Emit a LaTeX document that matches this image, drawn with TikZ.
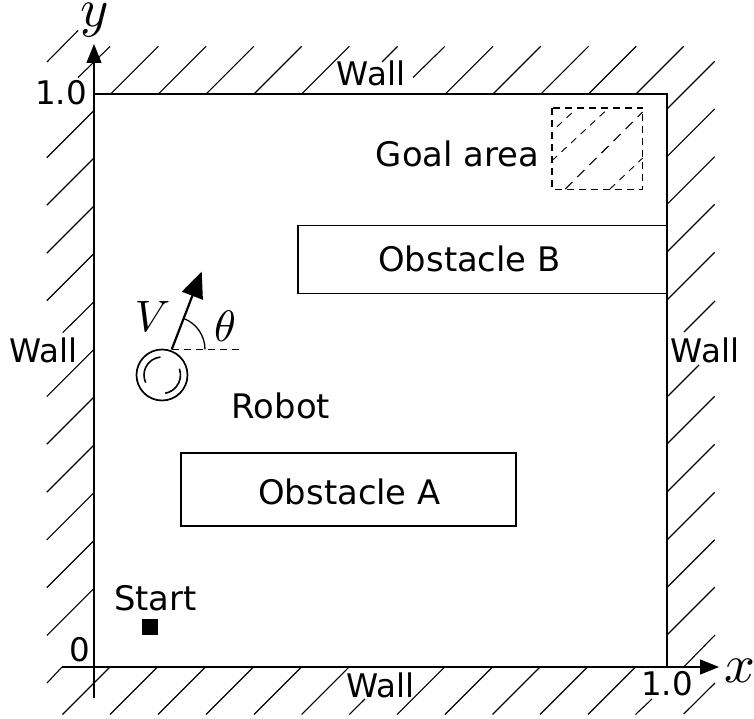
\documentclass[tikz,border=0pt]{standalone}
\usepackage{fontspec}
\setmainfont{DejaVu Sans}
\usetikzlibrary{arrows.meta}
\tikzset{
  x=1pt,y=-1pt,
  hatch/.style={line width=1.1pt,black},
  wall/.style={line width=1.6pt,black},
  lbl/.style={inner sep=0pt,anchor=base,font=\fontsize{33.8}{34}\selectfont},
  wlbl/.style={inner sep=0pt,anchor=base,font=\fontsize{32.5}{33}\selectfont},
  mathlbl/.style={inner sep=0pt},
  obstacle/.style={draw,line width=1.4pt,anchor=north west,inner sep=0pt,outer sep=0pt},
  axisarrow/.style={line width=1.3pt,-{Triangle[length=19pt,width=15pt]}},
  goalhatch/.style={line width=0.9pt,dash pattern=on 7pt off 6pt},
}
\begin{document}
\begin{tikzpicture}
\useasboundingbox (0,0) rectangle (754,719);
% hatching: top
\foreach \a in {110.7,158.4,206.2,254,301.7,445.3,493,540.8,588.5,636}
  \draw[hatch] (\a,94) -- ++(47.7,-47.7);
\draw[hatch] (47,62) -- (78,30.5);
\draw[hatch] (78,77.5) -- (110,46.5);
\draw[hatch] (382,62) -- (397.5,46.5);
\draw[hatch] (413,77.5) -- (444.7,46.5);
% hatching: left
\foreach \a in {110.5,158,206,253.5,349.3,397,445,492.7,540.5,588.3}
  \draw[hatch] (94,\a) -- ++(-47.2,47.2);
\draw[hatch] (94,301.7) -- (62.7,332.7);
\draw[hatch] (47,683) -- (62,667);
% hatching: right
\foreach \a in {109,156.7,204.4,252,300,444,492,540,587.5,635}
  \draw[hatch] (667,\a) -- ++(47.7,-47.7);
\draw[hatch] (684,332) -- (715,301);
\draw[hatch] (668,396) -- (699,365);
\draw[hatch] (683.7,667) -- (715,635);
\draw[hatch] (683.7,714) -- (715,683);
% hatching: bottom
\foreach \a in {62.5,110,158,206,254,301.6,397.2,445,492.5,540,588}
  \draw[hatch] (\a,714.5) -- ++(47.7,-47.7);
\draw[hatch] (349.3,714.5) -- (365,699);
\draw[hatch] (635.5,714.5) -- (652,699);
% walls and axes
\coordinate (org) at (94,667);
\coordinate (tl) at (94,94);
\coordinate (tr) at (667,94);
\coordinate (br) at (667,667);
\coordinate (ybot) at (94,698);
\coordinate (ytip) at (94,44);
\coordinate (xleft) at (62,667);
\coordinate (xtip) at (719,667);
\draw[wall] (tl) -- (tr) -- (br);
\draw[axisarrow] (ybot) -- (ytip);
\draw[axisarrow] (xleft) -- (xtip);
% obstacles and goal
\node[obstacle,minimum width=369pt,minimum height=68pt] (obsB) at (298,225.5) {};
\node[obstacle,minimum width=335pt,minimum height=73pt] (obsA) at (181,453) {};
\node[lbl] (obsBt) at (469.5,271) {Obstacle B};
\node[lbl] (obsAt) at (349.5,504) {Obstacle A};
\draw[line width=1.3pt,dash pattern=on 7pt off 5pt] (552,108) rectangle (642.5,189.5);
\draw[goalhatch] (557,126.7) -- (575,110);
\draw[goalhatch] (552,160.7) -- (608.7,108);
\draw[goalhatch,line width=1.1pt,dash pattern=on 10pt off 7pt] (565.3,189) -- (642.7,112);
\draw[goalhatch] (610,189) -- (642.7,158);
% robot
\node[draw,circle,line width=1.7pt,minimum size=51pt,inner sep=0pt] (robot) at (162,375) {};
\draw[line width=1.6pt] (robot.center) ++(95:18pt) arc[start angle=95,end angle=205,radius=18pt];
\draw[line width=1.6pt] (robot.center) ++(20:18.5pt) arc[start angle=20,end angle=-80,radius=18.5pt];
\coordinate (vbase) at (171.7,349.5);
\coordinate (vtip) at (201.7,271.5);
\coordinate (ref) at (241.7,349.5);
\draw[line width=2.2pt,-{Triangle[length=26pt,width=22pt]}] (vbase) -- (vtip);
\draw[line width=1.2pt,dash pattern=on 7pt off 5pt] (vbase) -- (ref);
\draw[line width=1.3pt] (205,349.5) arc[start angle=0,end angle=69,radius=33.3pt];
\node[mathlbl] (vl) at (152.5,316.7) {\scalebox{4.4}{$V$}};
\node[mathlbl] (th) at (225,326) {\scalebox{4.4}{$\theta$}};
% labels
\node[mathlbl] (yl) at (95,20) {\scalebox{5.4}{$y$}};
\node[mathlbl] (xl) at (740,671) {\scalebox{5.4}{$x$}};
\node[wlbl] (w1) at (371,86) {Wall};
\node[wlbl] (w2) at (43.5,362) {Wall};
\node[wlbl] (w3) at (705,362.5) {Wall};
\node[wlbl] (w4) at (380.5,697.5) {Wall};
\node[wlbl] (y1) at (61,105) {1.0};
\node[wlbl] (x1) at (667,695) {1.0};
\node[wlbl] (zero) at (79.5,661) {0};
\node[lbl] (startt) at (155.5,610) {Start};
\node[fill=black,minimum size=16.5pt,inner sep=0pt] (startm) at (150.2,627.2) {};
\node[lbl] (goalt) at (457.5,167) {Goal area};
\node[lbl] (robt) at (281,418) {Robot};
\end{tikzpicture}
\end{document}
